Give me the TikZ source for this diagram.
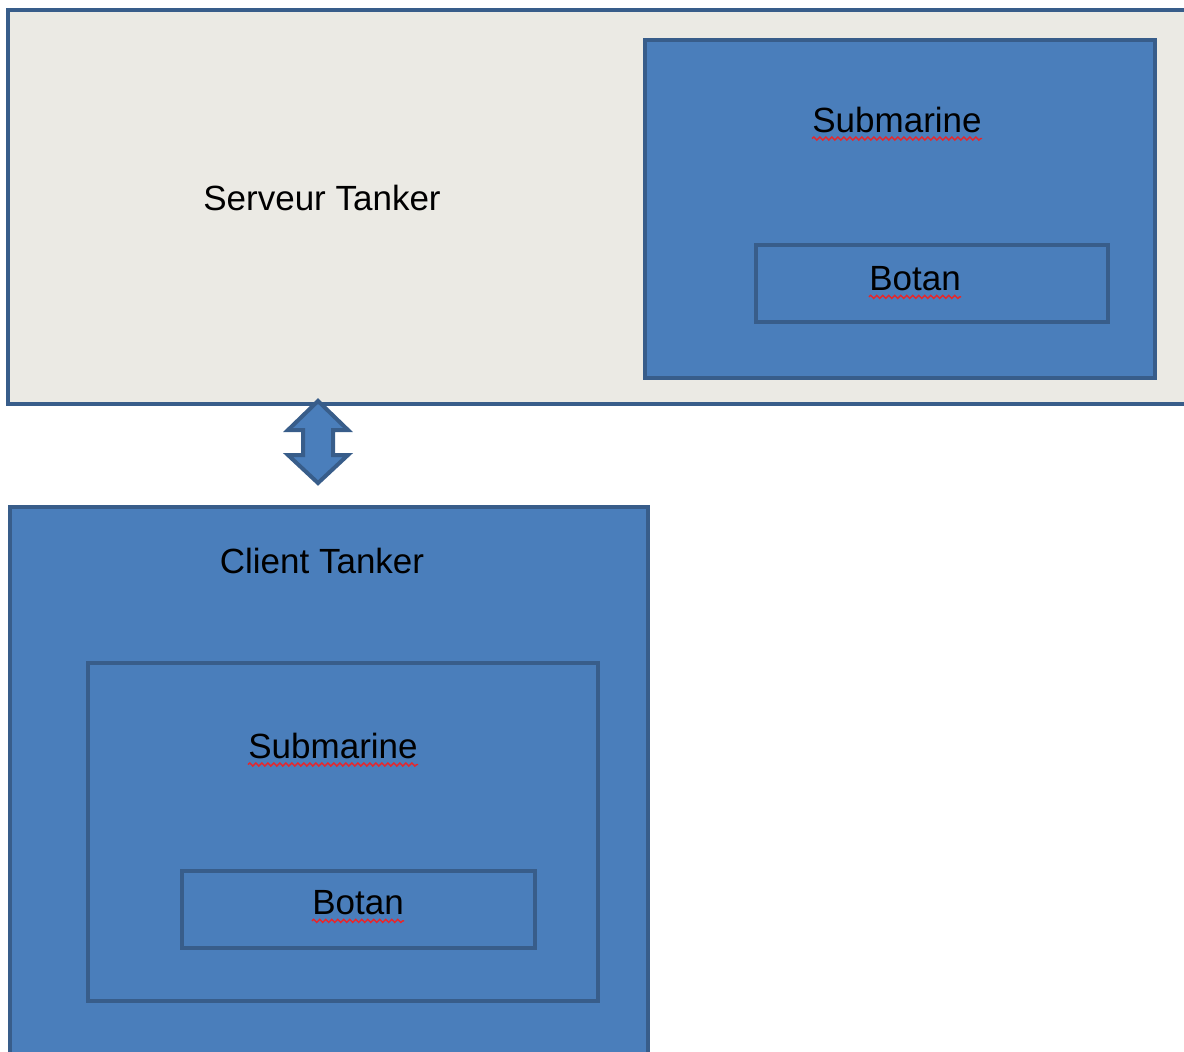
\documentclass[tikz,border=0pt]{standalone}
\usepackage{fontspec}
\setmainfont{Liberation Sans}
\usetikzlibrary{decorations.pathmorphing}
\definecolor{boxblue}{HTML}{4A7EBB}
\definecolor{edgeblue}{HTML}{385D8A}
\definecolor{paper}{HTML}{EBEAE4}
\definecolor{spellred}{HTML}{E8262A}
\tikzset{
  blue box/.style={draw=edgeblue, line width=2.4pt, fill=boxblue},
  gray box/.style={draw=edgeblue, line width=2.4pt, fill=paper},
  label/.style={font=\fontsize{17.5}{20}\selectfont, inner sep=0pt, text=black},
  spell/.style={draw=spellred, line width=0.7pt, decorate,
    decoration={snake, amplitude=0.8pt, segment length=3pt}}
}
\begin{document}
\begin{tikzpicture}[x=0.5pt,y=-0.5pt]
\useasboundingbox (0,0) rectangle (1184,1051);
% server
\path[gray box] (8,10) rectangle (1194,404);
\node[label] (serveur) at (322,198) {Serveur Tanker};
\path[blue box] (645,40) rectangle (1155,378);
\node[label] (sub1) at (897,120) {Submarine};
\path[blue box] (756,245) rectangle (1108,322);
\node[label] (botan1) at (915,279) {Botan};
% double arrow
\path[draw=edgeblue, line width=2pt, fill=boxblue, line join=miter]
  (318,401) -- (348,430) -- (333,430) -- (333,455) -- (348,455) -- (318,483)
  -- (288,455) -- (303,455) -- (303,430) -- (288,430) -- cycle;
% client
\path[blue box] (10,507) rectangle (648,1064);
\node[label] (client) at (322,561) {Client Tanker};
\path[blue box] (88,663) rectangle (598,1001);
\node[label] (sub2) at (333,746) {Submarine};
\path[blue box] (182,871) rectangle (535,948);
\node[label] (botan2) at (358,903) {Botan};
% spell-check underlines
\foreach \n in {sub1,botan1,sub2,botan2}{
  \draw[spell] ([yshift=-3pt]\n.base west) -- ([yshift=-3pt]\n.base east);
}
\end{tikzpicture}
\end{document}
